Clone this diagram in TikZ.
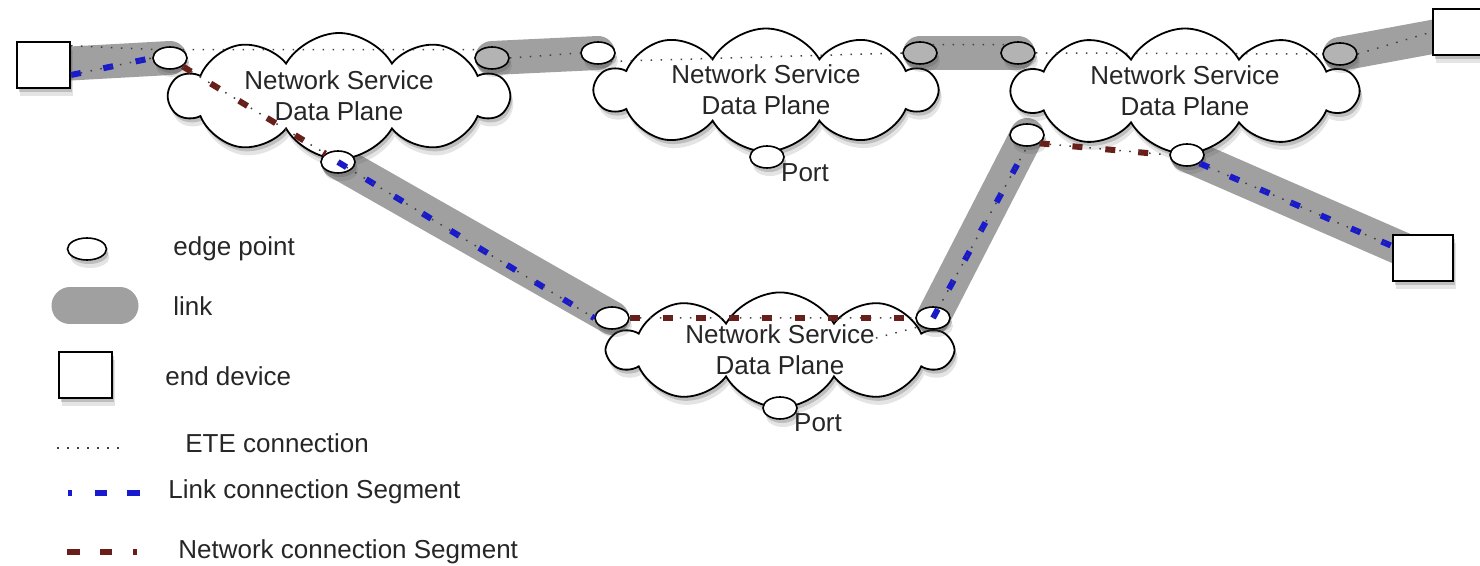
\documentclass[tikz,border=0pt]{standalone}
\usepackage{fontspec}
\setmainfont{Liberation Sans}
\usetikzlibrary{shapes.symbols,shapes.geometric,shadows,calc}
\definecolor{linkgray}{RGB}{160,160,160}
\definecolor{lcsblue}{RGB}{25,25,205}
\definecolor{ncsred}{RGB}{105,30,25}
\pgfdeclarelayer{bg}
\pgfsetlayers{bg,main}

\begin{document}
\begin{tikzpicture}[x=0.5pt,y=-0.5pt]
	\tikzset{every node/.style={font=\fontsize{13}{15.5}\selectfont,text=black!85}}
	\tikzset{shadowed/.style={drop shadow={shadow xshift=1.5pt,shadow yshift=-4pt,opacity=0.15,fill=black!70},drop shadow={shadow xshift=1pt,shadow yshift=-2pt,opacity=0.25,fill=black!70}}}
	\tikzset{dataplane/.style={cloud,cloud puffs=10,cloud puff arc=120,cloud ignores aspect,draw,line width=0.9pt,fill=white,shadowed,inner sep=0pt,align=center}}
	\tikzset{edgept/.style={ellipse,draw,line width=0.8pt,fill=white,minimum width=17pt,minimum height=11pt,inner sep=0pt,shadowed}}
	\tikzset{covered/.style={fill=linkgray!80!white}}
	\tikzset{device/.style={rectangle,draw,line width=1pt,fill=white,minimum width=26.5pt,minimum height=23pt,inner sep=0pt,shadowed}}
	\tikzset{link/.style={line width=17pt,line cap=round,draw=linkgray}}
	\tikzset{ete/.style={draw=black!75,line width=0.75pt,dash pattern=on 0.75pt off 4.25pt}}
	\tikzset{lcs/.style={draw=lcsblue,line width=3pt,dash pattern=on 5pt off 11.5pt}}
	\tikzset{ncs/.style={draw=ncsred,line width=3pt,dash pattern=on 5pt off 11.5pt}}
	\tikzset{legendtext/.style={anchor=west,inner sep=0pt}}
	\useasboundingbox (0,0) rectangle (1480,566);

	\node[dataplane,minimum width=169pt,minimum height=63pt] (dp1) at (339,96) {Network Service\\Data Plane};
	\node[dataplane,minimum width=170pt,minimum height=61.5pt] (dp2) at (766,90) {Network Service\\Data Plane};
	\node[dataplane,minimum width=172pt,minimum height=62.5pt] (dp3) at (1185,91) {Network Service\\Data Plane};
	\node[dataplane,minimum width=171pt,minimum height=53.5pt] (dp4) at (780,350) {Network Service\\Data Plane};

	\node[edgept] (ep1) at (170,58) {};
	\node[edgept,covered] (ep2) at (492,58) {};
	\node[edgept] (ep3) at (338,162) {};
	\node[edgept] (ep4) at (598,53) {};
	\node[edgept,covered] (ep5) at (920,53) {};
	\node[edgept,covered] (ep6) at (1018,53) {};
	\node[edgept,covered] (ep7) at (1340,54) {};
	\node[edgept] (ep8) at (1027,135) {};
	\node[edgept] (ep9) at (1187,155) {};
	\node[edgept] (ep10) at (612,318) {};
	\node[edgept] (ep11) at (933,318) {};
	\node[edgept] (port2) at (767,157) {};
	\node[edgept] (port4) at (780,408) {};
	\node (port2txt) at (805,173) {Port};
	\node (port4txt) at (818,423) {Port};

	\node[device] (dev1) at (43.5,65) {};
	\node[device] (dev2) at (1459,32) {};
	\node[device,minimum width=30pt] (dev3) at (1423,258) {};

	\begin{pgfonlayer}{bg}
		\draw[link] (dev1.center) -- (ep1.center);
		\draw[link] (ep2.center) -- (ep4.center);
		\draw[link] (ep3.center) -- (ep10.center);
		\draw[link] (ep5.center) -- (ep6.center);
		\draw[link] (ep7.center) -- (dev2.center);
		\draw[link] (ep11.center) -- (ep8.center);
		\draw[link] (ep9.center) -- (dev3.center);
	\end{pgfonlayer}

	\coordinate (dev1out) at ($(dev1.east)+(0,10)$);
	\coordinate (dev3in) at ($(dev3.west)+(0,-12)$);
	\coordinate (svc4) at (876,338);

	\draw[lcs] (dev1out) -- (ep1.west);
	\draw[lcs] (ep3.center) -- (ep10.west);
	\draw[lcs] (ep11.center) -- (ep8.south);
	\draw[lcs] (ep9.south east) -- (dev3in);
	\draw[ncs] (ep1.south east) -- (ep3.north west);
	\draw[ncs] (ep10.east) -- (ep11.west);
	\draw[ncs] (ep8.south east) -- (ep9.west);

	\draw[ete] (dev1out) -- (ep1.west) (ep1.south east) -- (ep3.north west) (ep3.center) -- (ep10.west)
		(ep10.east) -- (ep11.west) (ep11.center) -- (ep8.south) (ep8.south east) -- (ep9.west) (ep9.south east) -- (dev3in);
	\draw[ete] (dev1.35) -- (ep1.north west) (ep1.north east) -- (ep2.north west) (ep2.east) -- (ep4.west)
		(ep4.south east) -- (ep5.west) (ep5.north east) -- (ep6.north west) (ep6.east) -- (ep7.west) (ep7.east) -- (dev2.west);
	\draw[ete] (svc4) -- (ep11.south west);

	\node[edgept,minimum width=19.5pt] (lgep) at (87,249) {};
	\node[legendtext] (lgeptxt) at (173,249) {edge point};
	\coordinate (lglk1) at (70,306);
	\coordinate (lglk2) at (120,306);
	\draw[link,line width=18.5pt] (lglk1) -- (lglk2);
	\node[legendtext] (lglktxt) at (173,306) {link};
	\node[device] (lgdev) at (85,375.5) {};
	\node[legendtext] (lgdevtxt) at (165,376) {end device};
	\coordinate (lgete1) at (57,448);
	\coordinate (lgete2) at (127,448);
	\draw[ete] (lgete1) -- (lgete2);
	\node[legendtext] (lgetetxt) at (185,443) {ETE connection};
	\coordinate (lglcs1) at (68,493);
	\coordinate (lglcs2) at (140,493);
	\draw[lcs,dash pattern=on 2pt off 11.5pt on 6pt off 10pt on 6.5pt] (lglcs1) -- (lglcs2);
	\node[legendtext] (lglcstxt) at (168,492) {Link connection Segment};
	\coordinate (lgncs1) at (67,552);
	\coordinate (lgncs2) at (137,552);
	\draw[ncs,dash pattern=on 6.5pt off 10pt on 6pt off 10.5pt on 2pt] (lgncs1) -- (lgncs2);
	\node[legendtext] (lgncstxt) at (178,552) {Network connection Segment};
\end{tikzpicture}
\end{document}
